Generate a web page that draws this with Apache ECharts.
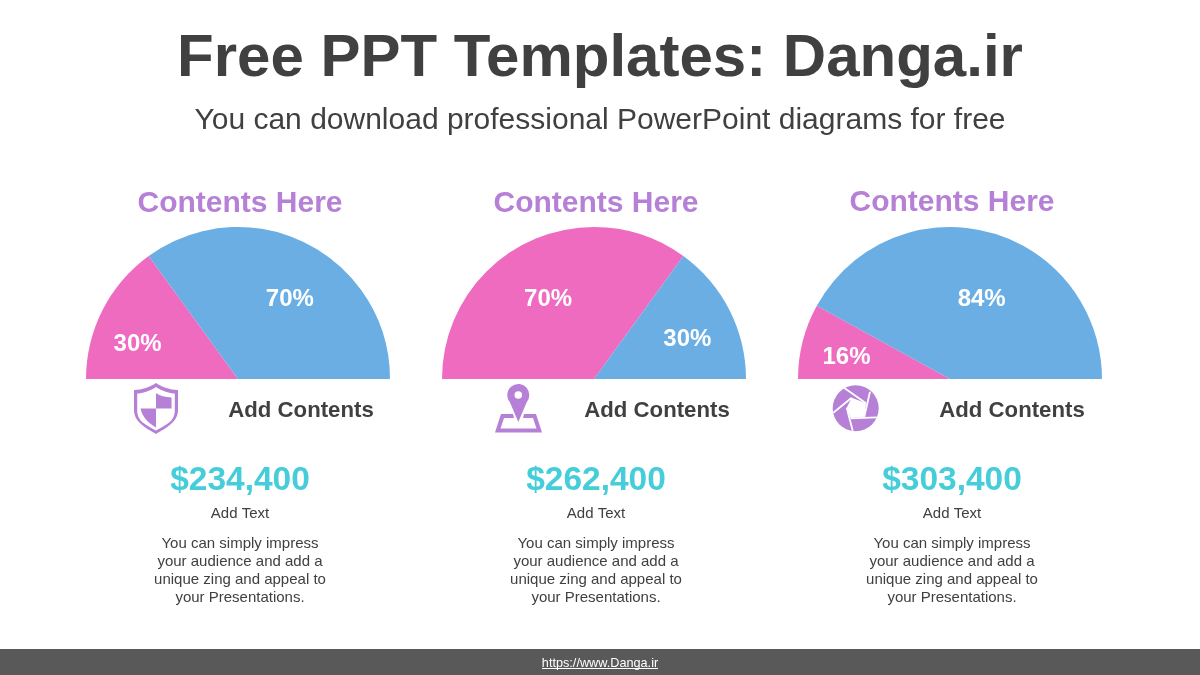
<!DOCTYPE html>
<html><head><meta charset="utf-8">
<style>html,body{margin:0;padding:0;background:#fff}#c{width:1200px;height:675px}</style>
<script src="https://cdn.jsdelivr.net/npm/echarts@6/dist/echarts.min.js"></script>
</head><body><div id="c"></div>
<script>
const pageTitle = 'Free PPT Templates: Danga.ir';
const pageSubtitle = 'You can download professional PowerPoint diagrams for free';
const footerText = 'https://www.Danga.ir';
const headings = ['Contents Here', 'Contents Here', 'Contents Here'];
const subheads = ['Add Contents', 'Add Contents', 'Add Contents'];
const amounts = ['$234,400', '$262,400', '$303,400'];
const captions = ['Add Text', 'Add Text', 'Add Text'];
const bodyLines = ['You can simply impress', 'your audience and add a', 'unique zing and appeal to', 'your Presentations.'];
const pinkValues = [30, 70, 16];
const blueValues = [70, 30, 84];

const PINK = '#EF6BC0', BLUE = '#6AAEE3', PURPLE = '#B580D6', DARK = '#404040', TEAL = '#45CDD9';
const centersX = [238, 594, 950];
const labelOffsets = [
  [[-30, 1], [16, -9]],
  [[-10, -9], [23, -4]],
  [[-27, -2], [12, -3]]
];

const series = pinkValues.map((p, i) => ({
  type: 'pie', silent: true, animation: false,
  center: [centersX[i], 379], radius: [0, 152],
  startAngle: 180, clockwise: true, avoidLabelOverlap: false,
  labelLine: { show: false },
  label: { show: true, position: 'inside', color: '#fff', fontSize: 24, fontWeight: 'bold',
           fontFamily: 'Liberation Sans', formatter: '{c}%' },
  labelLayout: params => {
    const o = labelOffsets[i][params.dataIndex];
    return o ? { dx: o[0], dy: o[1] } : {};
  },
  data: [
    { value: p, name: 'Pink', itemStyle: { color: PINK } },
    { value: blueValues[i], name: 'Blue', itemStyle: { color: BLUE } },
    { value: p + blueValues[i], name: 'Hidden', itemStyle: { color: 'rgba(0,0,0,0)' }, label: { show: false } }
  ]
}));

function txt(text, x, y, size, color, weight) {
  return { type: 'text', silent: true, style: { text, x, y, fill: color, align: 'center', verticalAlign: 'middle',
    fontFamily: 'Liberation Sans', fontSize: size, fontWeight: weight || 'normal' } };
}
let pathCount = 0;
function path(d, fill) {
  const name = 'iconPath' + (pathCount++);
  echarts.graphic.registerShape(name, echarts.graphic.extendPath(d, {}));
  return { type: name, silent: true, style: { fill } };
}
const shield = (cx, top, hw, sy, botY, midY) =>
  `M${cx} ${top} C${cx-6} ${top+4} ${cx-14} ${sy} ${cx-hw} ${sy} L${cx-hw} ${midY} C${cx-hw} ${midY+12} ${cx-10} ${botY-6} ${cx} ${botY} C${cx+10} ${botY-6} ${cx+hw} ${midY+12} ${cx+hw} ${midY} L${cx+hw} ${sy} C${cx+14} ${sy} ${cx+6} ${top+4} ${cx} ${top}Z`;

const g = [];
g.push({ type: 'rect', silent: true, shape: { x: 0, y: 649, width: 1200, height: 26 }, style: { fill: '#595959' } });
g.push(txt(pageTitle, 600, 59, 60, DARK, 'bold'));
g.push(txt(pageSubtitle, 600, 121, 30, DARK));
g.push(txt(footerText, 600, 663, 12.7, '#fff'));
g.push({ type: 'rect', silent: true, shape: { x: 542, y: 668, width: 116, height: 1 }, style: { fill: '#fff' } });

const headX = [240, 596, 952], headY = [204, 204, 203], subX = [301, 657, 1012], colX = [240, 596, 952];
headings.forEach((t, i) => {
  g.push(txt(t, headX[i], headY[i], 30, PURPLE, 'bold'));
  g.push(txt(subheads[i], subX[i], 411, 22.2, DARK, 'bold'));
  g.push(txt(amounts[i], colX[i], 481, 33.5, TEAL, 'bold'));
  g.push(txt(captions[i], colX[i], 513.5, 15, DARK));
  bodyLines.forEach((l, j) => g.push(txt(l, colX[i], 543.5 + j * 18, 15, DARK)));
});

// shield icon
g.push(path(shield(156, 383, 22, 390, 434, 410), PURPLE));
g.push(path(shield(156, 387, 18.8, 393.5, 430.5, 410), '#fff'));
g.push(path('M156 393 C160 396 165 397 171.5 397.5 L171.5 408.5 L156 408.5Z', PURPLE));
g.push(path('M140.5 408.5 L156 408.5 L156 427.5 C148 423 142.5 417 140.5 408.5Z', PURPLE));

// map pin icon
g.push(path('M501 414 L513 414 L514 418 L504 418 L500.5 428.5 L536.5 428.5 L533 418 L523 418 L524 414 L536 414 L542 432.5 L495 432.5Z', PURPLE));
g.push(path('M509.8 402 A11 11 0 1 1 526.8 402 L518.3 422Z', PURPLE));
g.push({ type: 'circle', silent: true, shape: { cx: 518.3, cy: 395, r: 3.8 }, style: { fill: '#fff' } });

// aperture icon
g.push({ type: 'circle', silent: true, shape: { cx: 855.7, cy: 408.3, r: 23 }, style: { fill: PURPLE } });
g.push(path('M851.7 397.7 L866 403.3 L864.3 416.7 L850.7 418 L846.7 407.7Z', '#fff'));
[[844, 387.7, 866, 403.3], [870, 391.7, 864.3, 416.7], [876.7, 417.3, 850.7, 418.3], [852.7, 430.7, 846.7, 407.7], [833.3, 412.7, 851.7, 397.7]].forEach(l => {
  g.push({ type: 'line', silent: true, shape: { x1: l[0], y1: l[1], x2: l[2], y2: l[3] }, style: { stroke: '#fff', lineWidth: 1.8 } });
});

const chart = echarts.init(document.getElementById('c'), null, { renderer: 'canvas' });
chart.setOption({ animation: false, backgroundColor: '#fff', series, graphic: { elements: g } });
</script></body></html>
